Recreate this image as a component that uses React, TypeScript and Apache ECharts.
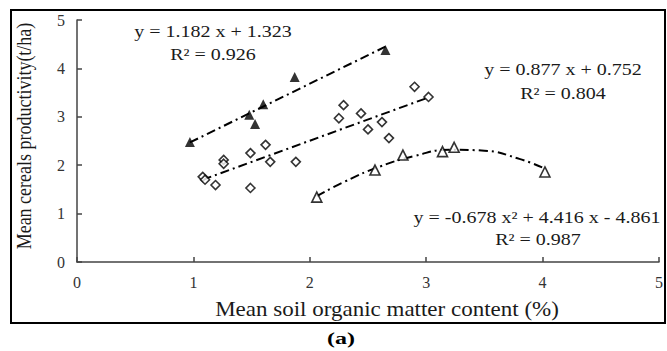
import React, { useEffect, useRef } from "react";
import * as echarts from "echarts";

const filledTriangles: [number, number][] = [
  [0.97, 2.48], [1.48, 3.04], [1.53, 2.85], [1.6, 3.26], [1.87, 3.82], [2.65, 4.38],
];
const openDiamonds: [number, number][] = [
  [1.08, 1.76], [1.1, 1.7], [1.19, 1.59], [1.26, 2.11], [1.26, 2.03], [1.49, 2.25],
  [1.62, 2.42], [1.66, 2.07], [1.49, 1.53], [1.88, 2.07], [2.29, 3.24], [2.25, 2.97],
  [2.44, 3.07], [2.5, 2.74], [2.62, 2.89], [2.68, 2.56], [2.9, 3.62], [3.02, 3.41],
];
const openTriangles: [number, number][] = [
  [2.06, 1.34], [2.56, 1.9], [2.8, 2.21], [3.14, 2.28], [3.24, 2.37], [4.02, 1.86],
];
const trend1: [number, number][] = [[0.97, 2.47], [2.65, 4.45]];
const trend2: [number, number][] = [[1.08, 1.7], [3.02, 3.4]];
const trend3: [number, number][] = [
  [2.06, 1.36], [2.3, 1.66], [2.6, 1.97], [2.9, 2.19], [3.2, 2.32], [3.5, 2.3], [3.8, 2.13], [4.02, 1.93],
];
const xTicks = [0, 1, 2, 3, 4, 5];
const yTicks = [0, 1, 2, 3, 4, 5];

const serif = "'Liberation Serif', 'Times New Roman', serif";
const dashDot = [9, 4, 2, 4];

export default function App() {
  const ref = useRef<HTMLDivElement>(null);
  useEffect(() => {
    if (!ref.current) return;
    const chart = echarts.init(ref.current, null, { renderer: "svg" });
    const axisCommon = {
      type: "value" as const,
      min: 0,
      max: 5,
      interval: 1,
      splitLine: { show: false },
      axisLine: { show: true, lineStyle: { color: "#444", width: 1.5 } },
      axisTick: { show: true, inside: true, length: 5, lineStyle: { color: "#444", width: 1.5 } },
    };
    const lineSeries = (data: [number, number][], smooth = false) => ({
      type: "line",
      data,
      smooth,
      symbol: "none",
      lineStyle: { color: "#000", width: 2, type: dashDot },
      z: 1,
    });
    const ann = (text: string, x: number, y: number) => ({
      type: "text",
      x,
      y,
      scaleX: 1.25,
      style: { text, font: `16px ${serif}`, fill: "#1a1a1a", align: "center", verticalAlign: "middle" },
    });
    chart.setOption({
      animation: false,
      backgroundColor: "#fff",
      grid: { left: 77, right: 8, top: 20, bottom: 89 },
      xAxis: {
        ...axisCommon,
        axisLabel: {
          margin: 12,
          fontFamily: serif,
          fontSize: 16,
          color: "#333",
          formatter: (v: number) => (xTicks.includes(v) ? String(v) : ""),
        },
      },
      yAxis: {
        ...axisCommon,
        axisLabel: {
          margin: 12,
          fontFamily: serif,
          fontSize: 16,
          color: "#333",
          formatter: (v: number) => (yTicks.includes(v) ? String(v) : ""),
        },
      },
      series: [
        lineSeries(trend1),
        lineSeries(trend2),
        lineSeries(trend3, true),
        {
          type: "scatter",
          data: filledTriangles,
          symbol: "triangle",
          symbolSize: 10,
          itemStyle: { color: "#000" },
          z: 3,
        },
        {
          type: "scatter",
          data: openDiamonds,
          symbol: "diamond",
          symbolSize: [9, 9],
          itemStyle: { color: "#fff", borderColor: "#000", borderWidth: 1.6 },
          z: 3,
        },
        {
          type: "scatter",
          data: openTriangles,
          symbol: "triangle",
          symbolSize: 10,
          itemStyle: { color: "#fff", borderColor: "#000", borderWidth: 1.6 },
          z: 3,
        },
      ],
      graphic: [
        {
          type: "rect",
          shape: { x: 11, y: 10, width: 654, height: 313 },
          style: { fill: "none", stroke: "#000", lineWidth: 2 },
          silent: true,
        },
        {
          type: "text",
          x: 24,
          y: 136,
          rotation: Math.PI / 2,
          scaleY: 1.15,
          style: {
            text: "Mean cereals productivity(t/ha)",
            font: `18px ${serif}`,
            fill: "#1a1a1a",
            align: "center",
            verticalAlign: "middle",
          },
        },
        {
          type: "text",
          x: 387,
          y: 310,
          scaleX: 1.15,
          style: {
            text: "Mean soil organic matter content (%)",
            font: `20px ${serif}`,
            fill: "#1a1a1a",
            align: "center",
            verticalAlign: "middle",
          },
        },
        {
          type: "text",
          x: 341,
          y: 339,
          scaleX: 1.5,
          style: {
            text: "(a)",
            font: `bold 16px ${serif}`,
            fill: "#000",
            align: "center",
            verticalAlign: "middle",
          },
        },
        ann("y = 1.182 x + 1.323", 213, 32),
        ann("R² = 0.926", 213, 55),
        ann("y = 0.877 x + 0.752", 563, 70),
        ann("R² = 0.804", 563, 94),
        ann("y = -0.678 x² + 4.416 x - 4.861", 537, 218),
        ann("R² = 0.987", 538, 240),
      ],
    });
    return () => chart.dispose();
  }, []);
  return (
    <div
      ref={ref}
      style={{ position: "fixed", left: 0, top: 0, width: 667, height: 351, background: "#fff" }}
    />
  );
}
